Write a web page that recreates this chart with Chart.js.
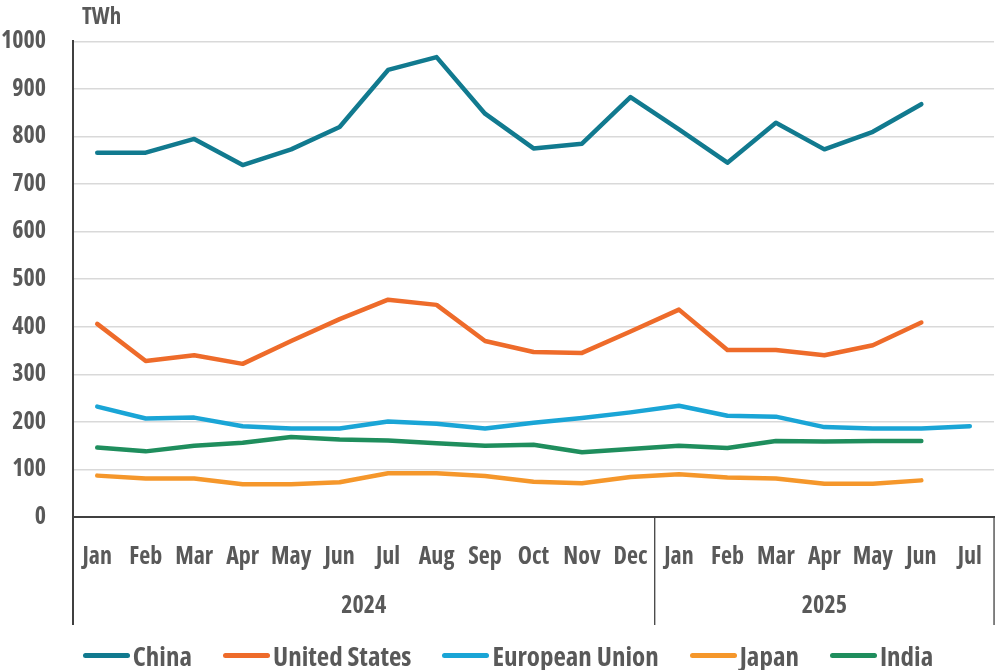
<!DOCTYPE html>
<html lang="en">
<head>
<meta charset="UTF-8">
<title>Electricity generation by month</title>
<script src="https://cdn.jsdelivr.net/npm/chart.js"></script>
<style>
  body { margin: 0; background: #fff; }
  #wrap { position: relative; width: 1000px; height: 670px; }
  #legend {
    position: absolute; left: 0; width: 1016px; top: 638px; height: 34px;
    display: flex; justify-content: center; align-items: center;
    font-weight: bold; color: #595959;
  }
  #legend .item { display: flex; align-items: center; margin-right: 31px; }
  #legend .item:last-child { margin-right: 0; }
  #legend .sw { width: 47px; height: 5px; border-radius: 3px; margin-right: 3px; }
</style>
</head>
<body>
<div id="wrap">
  <canvas id="chart" width="1000" height="670"></canvas>
  <div id="legend"></div>
</div>
<script>
const months = ['Jan','Feb','Mar','Apr','May','Jun','Jul','Aug','Sep','Oct','Nov','Dec',
                'Jan','Feb','Mar','Apr','May','Jun','Jul'];
const years = [{ label: '2024', from: 0, to: 11 }, { label: '2025', from: 12, to: 18 }];
const yTicks = [0, 100, 200, 300, 400, 500, 600, 700, 800, 900, 1000];

const china = [766, 766, 795, 740, 773, 820, 940, 967, 848, 775, 785, 883,
               815, 745, 829, 773, 810, 868, null];
const unitedStates = [406, 328, 340, 322, 370, 416, 457, 446, 370, 347, 345, 390,
                      436, 351, 351, 340, 361, 409, null];
const europeanUnion = [232, 207, 209, 191, 186, 186, 201, 196, 186, 198, 208, 220,
                       234, 213, 211, 189, 186, 186, 191];
const japan = [87, 81, 81, 69, 69, 73, 92, 92, 86, 74, 71, 84,
               90, 83, 81, 70, 70, 77, null];
const india = [146, 138, 150, 156, 168, 163, 161, 155, 150, 152, 136, 143,
               150, 145, 160, 159, 160, 160, null];

const series = [
  { name: 'China', data: china, color: '#117a8f' },
  { name: 'United States', data: unitedStates, color: '#ee6b2a' },
  { name: 'European Union', data: europeanUnion, color: '#1aa5d6' },
  { name: 'Japan', data: japan, color: '#f5972b' },
  { name: 'India', data: india, color: '#1f8e5d' }
];

const TEXT = '#595959';

// use condensed Open Sans if the installed face has a width axis, else DejaVu Sans Condensed
const probe = document.createElement('canvas').getContext('2d');
probe.font = "bold 24px 'Open Sans'";
const wNormal = probe.measureText('United States').width;
probe.font = "bold condensed 24px 'Open Sans'";
const wCond = probe.measureText('United States').width;
const condensed = wCond < wNormal * 0.93;

const FONT = condensed ? "'Open Sans'" : "'DejaVu Sans Condensed', 'DejaVu Sans'";
const WEIGHT = condensed ? 'bold condensed' : 'bold';
const SZ = condensed ? { y: 24, x: 24, year: 24, unit: 23, legend: 27 }
                     : { y: 19, x: 19, year: 19, unit: 19, legend: 20 };

// year row, separators and unit label
const extras = {
  id: 'extras',
  afterDraw(chart) {
    const ctx = chart.ctx;
    const x = chart.scales.x;
    const area = chart.chartArea;
    const half = (x.getPixelForValue(1) - x.getPixelForValue(0)) / 2;
    const bottom = area.bottom + 108;
    ctx.save();
    ctx.strokeStyle = '#404040';
    ctx.lineWidth = 2;
    ctx.beginPath();
    ctx.moveTo(area.left, area.bottom);
    ctx.lineTo(area.left, bottom);
    ctx.stroke();
    ctx.lineWidth = 1.3;
    years.forEach(y => {
      const x1 = x.getPixelForValue(y.to) + half;
      ctx.beginPath();
      ctx.moveTo(x1, area.bottom);
      ctx.lineTo(x1, bottom);
      ctx.stroke();
    });
    ctx.fillStyle = TEXT;
    ctx.font = WEIGHT + ' ' + SZ.year + 'px ' + FONT;
    ctx.textAlign = 'center';
    ctx.textBaseline = 'middle';
    years.forEach(y => {
      const cx = (x.getPixelForValue(y.from) + x.getPixelForValue(y.to)) / 2;
      ctx.fillText(y.label, cx, 606);
    });
    ctx.font = WEIGHT + ' ' + SZ.unit + 'px ' + FONT;
    ctx.textAlign = 'left';
    ctx.fillText('TWh', 82, 17);
    ctx.restore();
  }
};

new Chart(document.getElementById('chart'), {
  type: 'line',
  data: {
    labels: months,
    datasets: series.map(s => ({
      label: s.name,
      data: s.data,
      borderColor: s.color,
      backgroundColor: s.color,
      borderWidth: 4.5,
      pointRadius: 0,
      pointHoverRadius: 0,
      borderJoinStyle: 'round',
      borderCapStyle: 'round',
      tension: 0,
      spanGaps: false
    }))
  },
  options: {
    responsive: false,
    animation: false,
    layout: { padding: { top: 38, bottom: 45, left: 0, right: 4 } },
    plugins: {
      legend: { display: false },
      tooltip: { enabled: false }
    },
    scales: {
      x: {
        offset: true,
        grid: { display: false },
        border: { display: true, color: '#404040', width: 2 },
        ticks: { color: TEXT, font: { family: FONT, size: SZ.x, weight: WEIGHT }, padding: 18, maxRotation: 0, autoSkip: false },
        afterFit(scale) { scale.height = 108; }
      },
      y: {
        min: 0,
        max: 1000,
        afterBuildTicks(scale) { scale.ticks = yTicks.map(v => ({ value: v })); },
        grid: {
          color: ctx => ctx.tick && ctx.tick.value === 0 ? 'rgba(0,0,0,0)' : '#d9d9d9',
          lineWidth: 1.5,
          drawTicks: false
        },
        border: { display: true, color: '#404040', width: 2 },
        ticks: {
          color: TEXT,
          font: { family: FONT, size: SZ.y, weight: WEIGHT },
          padding: 27,
          callback: v => String(v)
        },
        afterFit(scale) { scale.width = 73; }
      }
    }
  },
  plugins: [extras]
});

const legend = document.getElementById('legend');
legend.style.fontFamily = FONT;
legend.style.fontSize = SZ.legend + 'px';
if (condensed) legend.style.fontStretch = 'condensed';
series.forEach(s => {
  const item = document.createElement('div');
  item.className = 'item';
  const sw = document.createElement('span');
  sw.className = 'sw';
  sw.style.background = s.color;
  const label = document.createElement('span');
  label.textContent = s.name;
  item.appendChild(sw);
  item.appendChild(label);
  legend.appendChild(item);
});
</script>
</body>
</html>
